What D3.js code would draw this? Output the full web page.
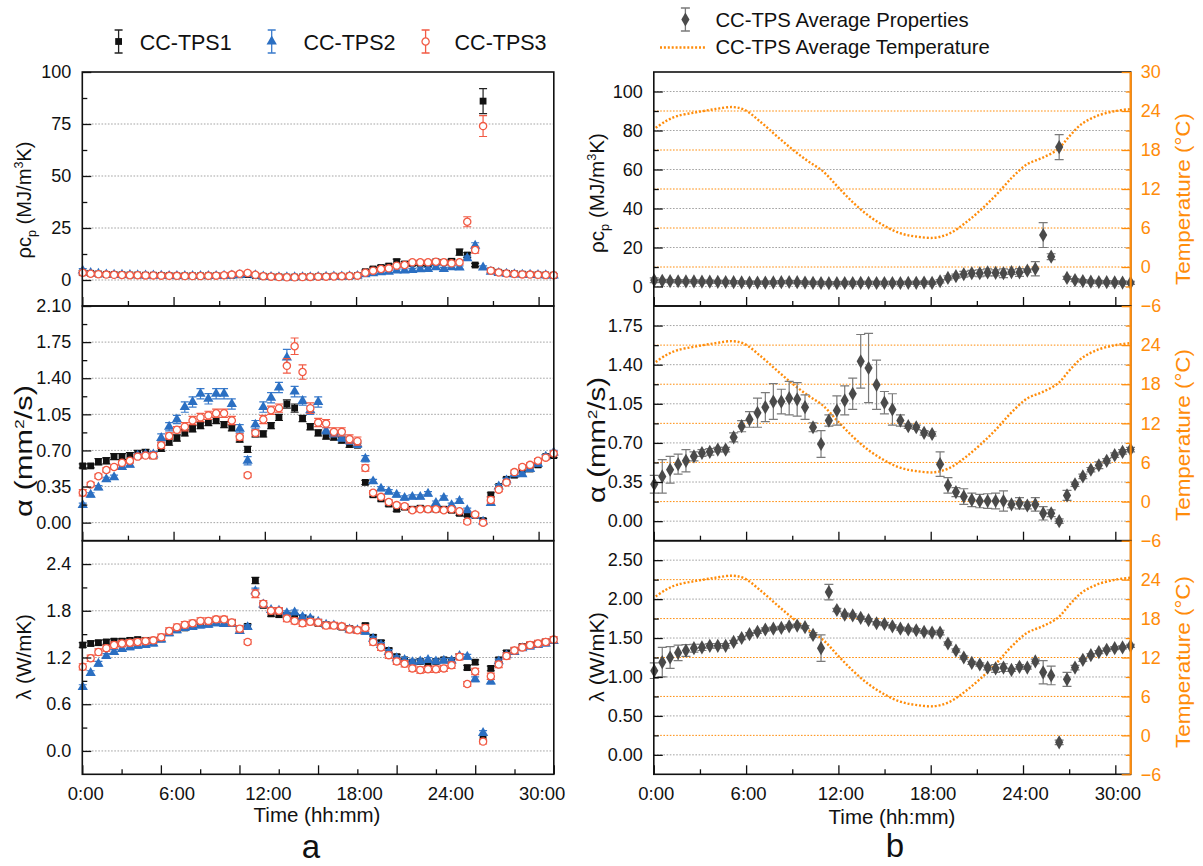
<!DOCTYPE html>
<html>
<head>
<meta charset="utf-8">
<script src="https://cdn.jsdelivr.net/npm/d3@7"></script>
<style>
  body { margin: 0; background: #fff; }
  text { font-family: "Liberation Sans", Arial, sans-serif; }
</style>
</head>
<body>
<svg id="chart" width="1203" height="866"></svg>
<script>
// sampling times (hours) shared by every series
const times = [0.03,0.55,1.06,1.58,2.09,2.61,3.13,3.64,4.16,4.67,
  5.19,5.71,6.22,6.74,7.25,7.77,8.29,8.80,9.32,9.83,
  10.35,10.87,11.38,11.90,12.41,12.93,13.45,13.96,14.48,14.99,
  15.51,16.03,16.54,17.06,17.57,18.09,18.61,19.12,19.64,20.15,
  20.67,21.19,21.70,22.22,22.73,23.25,23.77,24.28,24.80,25.31,
  25.83,26.35,26.86,27.38,27.89,28.41,28.93,29.44,29.96,30.47,
  30.99];

// ---- panel a : three sensors ----
const rhoTPS1 = [3.5,3.2,2.9,2.7,2.6,2.5,2.4,2.4,2.3,2.3,
  2.2,2.1,2.0,2.0,2.0,2.0,2.0,2.1,2.2,2.3,
  2.5,2.6,2.2,1.8,1.6,1.5,1.4,1.4,1.5,1.5,
  1.6,1.7,1.8,1.8,1.9,2.1,4.0,5.3,6.0,6.7,
  8.8,7.7,8.0,8.0,7.7,8.8,8.5,9.0,13.4,12.0,
  7.2,86.0,4.5,3.7,3.2,3.0,2.8,2.6,2.5,2.4,
  2.3];
const rhoTPS2 = [4.5,3.4,3.0,2.7,2.6,2.5,2.4,2.3,2.2,2.2,
  2.1,2.0,2.0,1.9,1.9,1.9,1.9,2.0,2.1,2.2,
  2.4,2.7,2.3,1.7,1.5,1.4,1.3,1.3,1.4,1.4,
  1.5,1.6,1.7,1.7,1.8,2.0,2.7,3.2,3.7,4.0,
  4.5,4.5,4.8,5.1,5.3,6.1,5.3,6.1,6.0,10.5,
  16.5,6.0,4.0,3.4,3.0,2.8,2.6,2.5,2.4,2.3,
  2.2];
const rhoTPS3 = [3.5,3.0,2.8,2.6,2.5,2.4,2.3,2.3,2.2,2.2,
  2.1,2.0,2.0,1.9,1.9,1.9,2.0,2.1,2.3,2.6,
  3.0,3.4,2.5,1.8,1.6,1.4,1.3,1.3,1.4,1.5,
  1.6,1.6,1.7,1.8,1.9,2.1,3.5,4.5,5.3,5.6,
  6.9,7.2,8.5,8.5,8.5,8.8,8.5,8.0,8.5,28.0,
  14.4,74.0,4.5,3.6,3.1,2.9,2.7,2.6,2.5,2.4,
  2.3];
const rhoErr1 = [1.0,0.8,0.7,0.7,0.7,0.7,0.7,0.7,0.7,0.7,
  0.7,0.7,0.7,0.7,0.7,0.7,0.7,0.7,0.7,0.7,
  0.8,0.8,0.7,0.7,0.7,0.7,0.7,0.7,0.7,0.7,
  0.7,0.7,0.7,0.7,0.7,0.7,0.8,0.9,1.0,1.0,
  1.2,1.0,1.0,1.0,1.0,1.0,1.0,1.0,1.5,1.2,
  0.8,6.0,0.8,0.7,0.7,0.7,0.7,0.7,0.7,0.7,
  0.7];
const rhoErr2 = [1.0,0.8,0.7,0.7,0.7,0.7,0.7,0.7,0.7,0.7,
  0.7,0.7,0.7,0.7,0.7,0.7,0.7,0.7,0.7,0.7,
  0.7,0.7,0.7,0.7,0.7,0.7,0.7,0.7,0.7,0.7,
  0.7,0.7,0.7,0.7,0.7,0.7,0.7,0.7,0.7,0.7,
  0.8,0.8,0.8,0.8,0.8,0.8,0.8,0.8,0.8,1.0,
  1.4,0.8,0.7,0.7,0.7,0.7,0.7,0.7,0.7,0.7,
  0.7];
const rhoErr3 = [1.0,0.8,0.7,0.7,0.7,0.7,0.7,0.7,0.7,0.7,
  0.7,0.7,0.7,0.7,0.7,0.7,0.7,0.7,0.7,0.7,
  0.8,0.8,0.7,0.7,0.7,0.7,0.7,0.7,0.7,0.7,
  0.7,0.7,0.7,0.7,0.7,0.7,0.8,0.8,0.9,0.9,
  0.9,0.9,0.9,0.9,0.9,0.9,0.9,0.9,0.9,2.4,
  1.5,5.0,0.8,0.7,0.7,0.7,0.7,0.7,0.7,0.7,
  0.7];

const alphaTPS1 = [0.55,0.55,0.59,0.60,0.64,0.64,0.65,0.67,0.68,0.65,
  0.72,0.78,0.82,0.87,0.91,0.94,0.97,0.99,0.95,0.92,
  0.81,0.71,0.86,0.86,0.94,1.02,1.15,1.11,1.01,0.93,
  0.87,0.84,0.83,0.80,0.76,0.75,0.39,0.27,0.23,0.18,
  0.13,0.15,0.13,0.14,0.13,0.13,0.13,0.12,0.09,0.08,
  0.07,0.02,0.27,0.35,0.42,0.46,0.51,0.52,0.56,0.64,
  0.65];
const alphaTPS2 = [0.17,0.27,0.34,0.42,0.44,0.54,0.56,0.65,0.66,0.66,
  0.82,0.93,1.00,1.12,1.17,1.25,1.20,1.25,1.25,1.15,
  0.91,0.60,0.95,1.12,1.21,1.31,1.60,1.27,1.18,1.09,
  1.17,0.89,0.86,0.82,0.79,0.76,0.62,0.40,0.33,0.30,
  0.27,0.24,0.25,0.25,0.28,0.19,0.24,0.17,0.21,0.12,
  0.07,0.01,0.19,0.35,0.41,0.47,0.47,0.52,0.57,0.64,
  0.68];
const alphaTPS3 = [0.29,0.37,0.45,0.51,0.54,0.58,0.60,0.64,0.65,0.65,
  0.75,0.84,0.90,0.93,0.99,1.02,1.04,1.06,1.06,0.99,
  0.83,0.46,0.87,1.00,1.09,1.11,1.52,1.71,1.46,1.11,
  0.97,0.96,0.88,0.88,0.81,0.79,0.53,0.29,0.25,0.20,
  0.17,0.16,0.12,0.13,0.13,0.13,0.12,0.13,0.11,0.01,
  0.08,0.00,0.22,0.32,0.39,0.49,0.54,0.56,0.60,0.63,
  0.67];
const alphaErr1 = [0.02,0.02,0.03,0.03,0.03,0.03,0.03,0.03,0.03,0.03,
  0.03,0.03,0.03,0.03,0.03,0.03,0.03,0.03,0.03,0.03,
  0.03,0.03,0.03,0.03,0.03,0.03,0.04,0.04,0.03,0.03,
  0.03,0.03,0.03,0.03,0.03,0.02,0.02,0.02,0.02,0.02,
  0.02,0.02,0.02,0.02,0.02,0.02,0.02,0.02,0.02,0.02,
  0.02,0.02,0.02,0.02,0.02,0.02,0.02,0.02,0.02,0.02,
  0.02];
const alphaErr2 = [0.02,0.02,0.02,0.02,0.02,0.02,0.02,0.02,0.02,0.03,
  0.04,0.04,0.04,0.05,0.05,0.05,0.05,0.05,0.05,0.05,
  0.04,0.04,0.04,0.05,0.05,0.05,0.08,0.05,0.04,0.04,
  0.05,0.03,0.03,0.03,0.03,0.03,0.03,0.02,0.02,0.02,
  0.02,0.02,0.02,0.02,0.02,0.02,0.02,0.02,0.02,0.02,
  0.02,0.02,0.02,0.02,0.02,0.02,0.02,0.02,0.02,0.02,
  0.02];
const alphaErr3 = [0.03,0.02,0.02,0.02,0.02,0.02,0.02,0.02,0.02,0.03,
  0.03,0.03,0.03,0.04,0.04,0.04,0.04,0.04,0.04,0.04,
  0.03,0.02,0.03,0.04,0.04,0.04,0.07,0.08,0.07,0.05,
  0.04,0.04,0.04,0.04,0.04,0.04,0.03,0.02,0.02,0.02,
  0.02,0.02,0.02,0.02,0.02,0.02,0.02,0.02,0.02,0.02,
  0.02,0.02,0.03,0.02,0.02,0.02,0.02,0.02,0.02,0.02,
  0.02];

const lambdaTPS1 = [1.36,1.38,1.39,1.40,1.41,1.41,1.42,1.43,1.42,1.42,
  1.44,1.52,1.56,1.58,1.60,1.63,1.64,1.65,1.64,1.65,
  1.56,1.60,2.19,1.87,1.76,1.75,1.74,1.73,1.71,1.69,
  1.64,1.62,1.61,1.59,1.57,1.55,1.61,1.46,1.39,1.29,
  1.21,1.17,1.14,1.15,1.12,1.15,1.17,1.16,1.21,1.07,
  1.14,0.17,1.06,1.17,1.26,1.29,1.34,1.36,1.38,1.40,
  1.42];
const lambdaTPS2 = [0.82,1.00,1.12,1.22,1.27,1.31,1.33,1.35,1.36,1.38,
  1.43,1.51,1.55,1.58,1.59,1.61,1.62,1.64,1.63,1.63,
  1.54,1.59,2.05,1.88,1.81,1.80,1.77,1.78,1.72,1.70,
  1.66,1.62,1.61,1.59,1.56,1.55,1.53,1.44,1.36,1.27,
  1.19,1.17,1.14,1.15,1.17,1.15,1.16,1.16,1.22,1.21,
  0.92,0.23,0.89,1.15,1.23,1.27,1.32,1.34,1.36,1.38,
  1.41];
const lambdaTPS3 = [1.08,1.19,1.27,1.32,1.36,1.38,1.39,1.40,1.41,1.42,
  1.46,1.54,1.59,1.62,1.64,1.67,1.67,1.69,1.69,1.65,
  1.57,1.40,2.02,1.89,1.80,1.80,1.70,1.67,1.64,1.66,
  1.65,1.61,1.61,1.60,1.56,1.55,1.58,1.40,1.33,1.23,
  1.15,1.12,1.06,1.04,1.05,1.05,1.06,1.10,1.21,0.86,
  1.02,0.12,0.96,1.11,1.22,1.29,1.33,1.36,1.38,1.40,
  1.43];
const lambdaErr1 = [0.03,0.03,0.03,0.03,0.03,0.03,0.03,0.03,0.03,0.03,
  0.03,0.03,0.03,0.03,0.03,0.03,0.03,0.03,0.03,0.03,
  0.03,0.03,0.04,0.03,0.03,0.03,0.03,0.03,0.03,0.03,
  0.03,0.03,0.03,0.03,0.03,0.03,0.03,0.03,0.03,0.03,
  0.03,0.03,0.03,0.03,0.03,0.03,0.03,0.03,0.03,0.03,
  0.03,0.03,0.03,0.03,0.03,0.03,0.03,0.03,0.03,0.03,
  0.03];
const lambdaErr2 = [0.03,0.03,0.03,0.03,0.03,0.03,0.03,0.03,0.03,0.03,
  0.03,0.03,0.03,0.03,0.03,0.03,0.03,0.03,0.03,0.03,
  0.03,0.03,0.04,0.03,0.03,0.03,0.03,0.03,0.03,0.03,
  0.03,0.03,0.03,0.03,0.03,0.03,0.03,0.03,0.03,0.03,
  0.03,0.03,0.03,0.03,0.03,0.03,0.03,0.03,0.03,0.03,
  0.03,0.03,0.03,0.03,0.03,0.03,0.03,0.03,0.03,0.03,
  0.03];
const lambdaErr3 = [0.04,0.04,0.04,0.04,0.04,0.04,0.04,0.04,0.04,0.04,
  0.04,0.04,0.04,0.04,0.04,0.04,0.04,0.04,0.04,0.04,
  0.04,0.03,0.05,0.04,0.04,0.04,0.04,0.04,0.04,0.04,
  0.04,0.04,0.04,0.04,0.04,0.04,0.04,0.04,0.04,0.04,
  0.04,0.04,0.04,0.04,0.04,0.04,0.04,0.04,0.04,0.03,
  0.04,0.03,0.04,0.04,0.04,0.04,0.04,0.04,0.04,0.04,
  0.04];

// ---- panel b : averages and temperature ----
const rhoAvg = [3.2,2.9,2.8,2.7,2.6,2.6,2.5,2.5,2.4,2.3,
  2.2,2.1,2.0,2.0,2.0,2.1,2.2,2.3,2.2,2.0,
  1.9,1.8,1.7,1.7,1.8,1.8,1.9,1.9,1.8,1.8,
  1.8,1.8,1.9,1.9,2.0,1.9,2.7,4.4,5.3,6.3,
  6.8,6.8,7.2,7.0,6.8,7.4,7.2,8.1,9.1,26.4,
  15.3,71.5,4.4,3.3,2.8,2.5,2.3,2.2,2.1,2.0,
  1.9];
const rhoAvgErr = [1.2,0.8,0.8,0.8,0.8,0.8,0.8,0.8,0.8,0.8,
  0.8,0.8,0.8,0.8,0.8,0.8,0.8,0.8,0.8,0.8,
  0.8,0.8,0.8,0.8,0.8,0.8,0.8,0.8,0.8,0.8,
  0.8,0.8,0.8,0.8,0.8,0.8,0.9,1.0,1.0,1.5,
  1.5,1.8,1.8,1.5,2.2,1.2,2.0,0.8,3.7,6.4,
  1.5,6.4,0.8,0.8,0.8,0.8,0.8,0.8,0.8,0.8,
  0.8];
const alphaAvg = [0.33,0.40,0.46,0.51,0.54,0.58,0.61,0.62,0.64,0.64,
  0.75,0.85,0.91,0.97,1.02,1.07,1.07,1.10,1.09,1.02,
  0.84,0.69,0.90,0.99,1.08,1.14,1.43,1.37,1.22,1.06,
  1.00,0.90,0.85,0.84,0.79,0.78,0.51,0.32,0.26,0.22,
  0.19,0.18,0.18,0.18,0.18,0.15,0.16,0.14,0.15,0.07,
  0.07,0.00,0.23,0.33,0.40,0.46,0.50,0.54,0.59,0.62,
  0.64];
const alphaAvgErr = [0.08,0.15,0.12,0.09,0.10,0.04,0.03,0.03,0.02,0.02,
  0.04,0.05,0.07,0.13,0.13,0.16,0.11,0.15,0.15,0.11,
  0.04,0.12,0.05,0.13,0.13,0.14,0.24,0.31,0.22,0.10,
  0.14,0.05,0.02,0.02,0.02,0.02,0.11,0.07,0.04,0.07,
  0.06,0.06,0.065,0.07,0.09,0.03,0.05,0.03,0.06,0.06,
  0.03,0.02,0.045,0.02,0.02,0.02,0.03,0.02,0.02,0.02,
  0.02];
const lambdaAvg = [1.08,1.19,1.25,1.31,1.34,1.37,1.38,1.40,1.40,1.40,
  1.45,1.50,1.55,1.58,1.61,1.62,1.63,1.65,1.66,1.64,
  1.54,1.37,2.09,1.86,1.80,1.79,1.76,1.73,1.69,1.68,
  1.65,1.62,1.61,1.60,1.58,1.57,1.57,1.43,1.34,1.25,
  1.18,1.16,1.12,1.11,1.12,1.09,1.13,1.12,1.20,1.06,
  1.02,0.16,0.97,1.12,1.22,1.28,1.32,1.35,1.37,1.38,
  1.40];
const lambdaAvgErr = [0.10,0.19,0.14,0.10,0.075,0.05,0.04,0.03,0.03,0.03,
  0.02,0.02,0.02,0.02,0.02,0.02,0.02,0.02,0.02,0.02,
  0.03,0.17,0.10,0.02,0.02,0.02,0.02,0.02,0.02,0.02,
  0.02,0.02,0.02,0.02,0.02,0.02,0.03,0.02,0.02,0.02,
  0.02,0.02,0.03,0.05,0.05,0.02,0.03,0.02,0.03,0.15,
  0.12,0.03,0.09,0.03,0.02,0.02,0.02,0.02,0.02,0.02,
  0.02];

const tempTimes = [0.13,0.75,1.50,2.75,4.00,5.13,5.88,7.00,8.01,9.01,
  10.01,11.01,12.01,13.01,14.01,15.01,16.01,17.01,18.26,19.26,
  20.26,21.26,22.26,23.26,24.26,25.26,26.26,27.01,27.76,28.76,
  30.01,31.00];
const tempValues = [21.4,22.4,23.2,23.8,24.3,24.6,24.2,22.2,20.1,18.1,
  16.3,14.7,12.2,9.8,7.8,6.3,5.2,4.7,4.5,5.2,
  6.8,8.8,11.1,13.7,15.8,16.8,18.1,20.1,21.9,23.2,
  24.0,24.3];

// tick values
const hourTicks = [0, 6, 12, 18, 24, 30];
const hourMinor = [3, 9, 15, 21, 27];
const hourLabels = ["0:00", "6:00", "12:00", "18:00", "24:00", "30:00"];
const aBottomTicks = [0, 5.1667, 10.3333, 15.5, 20.6667, 25.8333, 31];
const aBottomMinor = [2.5833, 7.75, 12.9167, 18.0833, 23.25, 28.4167];
const tempTicks = [-6, 0, 6, 12, 18, 24, 30];
const tempMinor = [-3, 3, 9, 15, 21, 27];

const ORANGE = "#ff8c0a";
const svg = d3.select("#chart");
svg.append("rect").attr("width", 1203).attr("height", 866).attr("fill", "#ffffff");

const rowY = [[72, 306], [306, 540.7], [540.7, 774.3]];
const xa = d3.scaleLinear().domain([0, 31]).range([82.3, 553.8]);
const xb = d3.scaleLinear().domain([0, 31]).range([653.8, 1130.7]);

function styleAxis(sel, size, color) {
  sel.select(".domain").remove();
  sel.attr("font-family", "Liberation Sans, Arial, sans-serif").attr("font-size", size);
  sel.selectAll("line").attr("stroke", color).attr("stroke-width", 1.3);
  sel.selectAll("text").attr("fill", color);
}

function drawPanel(x, r, p) {
  const y = d3.scaleLinear().domain(p.domain).range([rowY[r][1], rowY[r][0]]);
  const [x0, x1] = x.range();
  const g = svg.append("g");
  g.selectAll(null).data(p.grid).join("line")
    .attr("x1", x0).attr("x2", x1).attr("y1", d => y(d)).attr("y2", d => y(d))
    .attr("stroke", "#a3a3a3").attr("stroke-width", 1).attr("stroke-dasharray", "1.6,1.6");
  return { g, y, x, r, p };
}

function drawTicks(pan) {
  const { g, y, x, r, p } = pan;
  const [x0, x1] = x.range();
  const yb = rowY[r][1];
  g.append("g").attr("transform", `translate(${x0},0)`)
    .call(d3.axisLeft(y).tickValues(p.major).tickSize(-9).tickSizeOuter(0).tickPadding(11)
      .tickFormat(d => p.labels.includes(d) ? p.fmt(d) : ""))
    .call(s => styleAxis(s, 18, "#111"));
  g.append("g").attr("transform", `translate(${x0},0)`)
    .call(d3.axisLeft(y).tickValues(p.minor).tickSize(-5).tickSizeOuter(0).tickFormat(""))
    .call(s => styleAxis(s, 18, "#111"));
  g.append("g").attr("transform", `translate(0,${yb})`)
    .call(d3.axisBottom(x).tickValues(p.xMajor || hourTicks).tickSize(-9).tickSizeOuter(0).tickFormat(""))
    .call(s => styleAxis(s, 18, "#111"));
  g.append("g").attr("transform", `translate(0,${yb})`)
    .call(d3.axisBottom(x).tickValues(p.xMinor || hourMinor).tickSize(-5).tickSizeOuter(0).tickFormat(""))
    .call(s => styleAxis(s, 18, "#111"));
  g.append("rect").attr("x", x0).attr("y", rowY[r][0]).attr("width", x1 - x0)
    .attr("height", rowY[r][1] - rowY[r][0]).attr("fill", "none")
    .attr("stroke", "#111").attr("stroke-width", 1.6);
}

function drawTemp(pan) {
  const { g, x, r } = pan;
  const [x0, x1] = x.range();
  const yt = d3.scaleLinear().domain([-6, 30]).range([rowY[r][1], rowY[r][0]]);
  g.selectAll(null).data([0, 6, 12, 18, 24]).join("line")
    .attr("x1", x0).attr("x2", x1).attr("y1", d => yt(d)).attr("y2", d => yt(d))
    .attr("stroke", ORANGE).attr("stroke-width", 1).attr("stroke-dasharray", "1.6,1.6");
  const line = d3.line().x(d => x(d[0])).y(d => yt(d[1])).curve(d3.curveCatmullRom);
  g.append("path").datum(tempTimes.map((t, i) => [t, tempValues[i]]))
    .attr("d", line).attr("fill", "none").attr("stroke", ORANGE)
    .attr("stroke-width", 2.4).attr("stroke-dasharray", "2,1.9");
  pan.yt = yt;
}

function drawTempAxis(pan) {
  const { g, x, r, yt } = pan;
  const x1 = x.range()[1];
  g.append("g").attr("transform", `translate(${x1},0)`)
    .call(d3.axisRight(yt).tickValues(tempTicks).tickSize(-9).tickSizeOuter(0).tickPadding(10)
      .tickFormat(d => (r > 0 && d === 30) ? "" : d3.format("d")(d)))
    .call(s => styleAxis(s, 18, ORANGE));
  g.append("g").attr("transform", `translate(${x1},0)`)
    .call(d3.axisRight(yt).tickValues(tempMinor).tickSize(-5).tickSizeOuter(0).tickFormat(""))
    .call(s => styleAxis(s, 18, ORANGE));
  g.append("line").attr("x1", x1).attr("x2", x1).attr("y1", rowY[r][0]).attr("y2", rowY[r][1])
    .attr("stroke", ORANGE).attr("stroke-width", 2.2);
}

function marker(sel, shape, color) {
  if (shape === "square") {
    sel.append("rect").attr("x", -3.4).attr("y", -3.4).attr("width", 6.8).attr("height", 6.8).attr("fill", color);
  } else if (shape === "triangle") {
    sel.append("path").attr("d", d3.symbol(d3.symbolTriangle, 46)()).attr("fill", color);
  } else if (shape === "circle") {
    sel.append("circle").attr("r", 3.6).attr("fill", "#fff").attr("stroke", color).attr("stroke-width", 1.3);
  } else {
    sel.append("path").attr("d", d3.symbol(d3.symbolDiamond, 58)()).attr("fill", color);
  }
}

function drawSeries(pan, vals, errs, s) {
  const { g, x, y } = pan;
  const pts = times.map((t, i) => ({ t, v: vals[i], e: errs[i] })).filter(d => d.v != null);
  const c = s.cap;
  g.append("g").selectAll("path").data(pts).join("path")
    .attr("d", d => {
      const xx = x(d.t), ya = y(d.v - d.e), yb = y(d.v + d.e);
      return `M${xx - c},${ya}H${xx + c}M${xx},${ya}V${yb}M${xx - c},${yb}H${xx + c}`;
    })
    .attr("fill", "none").attr("stroke", s.bar).attr("stroke-width", 1.2);
  g.append("g").selectAll("g").data(pts).join("g")
    .attr("transform", d => `translate(${x(d.t)},${y(d.v)})`)
    .each(function () { marker(d3.select(this), s.shape, s.color); });
}

function yTitle(cx, cy, parts, len, color, size) {
  const t = svg.append("text")
    .attr("transform", `translate(${cx},${cy}) rotate(-90)`)
    .attr("text-anchor", "middle").attr("dy", "0.35em")
    .attr("font-size", size || 21).attr("fill", color || "#111");
  parts.forEach(pt => {
    const ts = t.append("tspan").text(pt.t);
    if (pt.sub) ts.attr("font-size", 13).attr("dy", 5);
    if (pt.sup) ts.attr("font-size", 13).attr("dy", -8);
    if (pt.back) ts.attr("dy", pt.back);
  });
  if (len) t.attr("textLength", len).attr("lengthAdjust", "spacingAndGlyphs");
}

const S1 = { shape: "square", color: "#111", bar: "#222", cap: 4 };
const S2 = { shape: "triangle", color: "#2b6fc2", bar: "#3a7bcc", cap: 4 };
const S3 = { shape: "circle", color: "#f25a44", bar: "#f25a44", cap: 4 };
const SB = { shape: "diamond", color: "#4a4a4a", bar: "#7a7a7a", cap: 4.5 };

const f0 = d3.format("d"), f1 = d3.format(".1f"), f2 = d3.format(".2f");

// ----- panel a -----
const a1 = drawPanel(xa, 0, { domain: [-12.5, 100], grid: [0, 25, 50, 75],
  major: [0, 25, 50, 75, 100], minor: [12.5, 37.5, 62.5, 87.5], labels: [0, 25, 50, 75, 100], fmt: f0 });
const a2 = drawPanel(xa, 1, { domain: [-0.175, 2.1], grid: [0, 0.35, 0.7, 1.05, 1.4, 1.75],
  major: [0, 0.35, 0.7, 1.05, 1.4, 1.75, 2.1], minor: [0.175, 0.525, 0.875, 1.225, 1.575, 1.925],
  labels: [0, 0.35, 0.7, 1.05, 1.4, 1.75, 2.1], fmt: f2 });
const a3 = drawPanel(xa, 2, { domain: [-0.3, 2.7], grid: [0, 0.6, 1.2, 1.8, 2.4],
  major: [0, 0.6, 1.2, 1.8, 2.4], minor: [0.3, 0.9, 1.5, 2.1], labels: [0, 0.6, 1.2, 1.8, 2.4], fmt: f1,
  xMajor: aBottomTicks, xMinor: aBottomMinor });

[[a1, rhoTPS1, rhoErr1, rhoTPS2, rhoErr2, rhoTPS3, rhoErr3],
 [a2, alphaTPS1, alphaErr1, alphaTPS2, alphaErr2, alphaTPS3, alphaErr3],
 [a3, lambdaTPS1, lambdaErr1, lambdaTPS2, lambdaErr2, lambdaTPS3, lambdaErr3]].forEach(([pan, v1, e1, v2, e2, v3, e3]) => {
  drawSeries(pan, v1, e1, S1);
  drawSeries(pan, v2, e2, S2);
  drawSeries(pan, v3, e3, S3);
  drawTicks(pan);
});

// ----- panel b -----
const b1 = drawPanel(xb, 0, { domain: [-10, 110], grid: [0, 20, 40, 60, 80, 100],
  major: [0, 20, 40, 60, 80, 100], minor: [10, 30, 50, 70, 90], labels: [0, 20, 40, 60, 80, 100], fmt: f0 });
const b2 = drawPanel(xb, 1, { domain: [-0.175, 1.925], grid: [0, 0.35, 0.7, 1.05, 1.4, 1.75],
  major: [0, 0.35, 0.7, 1.05, 1.4, 1.75], minor: [0.175, 0.525, 0.875, 1.225, 1.575],
  labels: [0, 0.35, 0.7, 1.05, 1.4, 1.75], fmt: f2 });
const b3 = drawPanel(xb, 2, { domain: [-0.25, 2.75], grid: [0, 0.5, 1, 1.5, 2, 2.5],
  major: [0, 0.5, 1, 1.5, 2, 2.5], minor: [0.25, 0.75, 1.25, 1.75, 2.25], labels: [0, 0.5, 1, 1.5, 2, 2.5], fmt: f2 });

[[b1, rhoAvg, rhoAvgErr], [b2, alphaAvg, alphaAvgErr], [b3, lambdaAvg, lambdaAvgErr]].forEach(([pan, v, e]) => {
  drawTemp(pan);
  drawSeries(pan, v, e, SB);
  drawTicks(pan);
  drawTempAxis(pan);
});

// x tick labels and titles
[xa, xb].forEach((x, k) => {
  svg.append("g").attr("transform", `translate(${k ? 2 : 3},774.3)`)
    .call(d3.axisBottom(x).tickValues(hourTicks).tickSize(0).tickPadding(13)
      .tickFormat((d, i) => hourLabels[i]))
    .call(s => styleAxis(s, 18.5, "#111"));
});
svg.append("text").attr("x", 317).attr("y", 822).attr("text-anchor", "middle")
  .attr("font-size", 20.5).attr("fill", "#111").text("Time (hh:mm)");
svg.append("text").attr("x", 892).attr("y", 824).attr("text-anchor", "middle")
  .attr("font-size", 20.5).attr("fill", "#111").text("Time (hh:mm)");
svg.append("text").attr("x", 311).attr("y", 858).attr("text-anchor", "middle")
  .attr("font-size", 33).attr("fill", "#111").text("a");
svg.append("text").attr("x", 895).attr("y", 857).attr("text-anchor", "middle")
  .attr("font-size", 33).attr("fill", "#111").text("b");

// y axis titles
const rhoParts = [{ t: "ρc" }, { t: "p", sub: true }, { t: " (MJ/m", back: -5 }, { t: "3", sup: true }, { t: "K)", back: 8 }];
const alphaParts = [{ t: "α (mm" }, { t: "2", sup: true }, { t: "/s)", back: 8 }];
const lambdaParts = [{ t: "λ (W/mK)" }];
yTitle(24, 200, rhoParts, 117);
yTitle(24, 451, alphaParts, 132, null, 23);
yTitle(24, 657, lambdaParts, 86);
yTitle(597, 193, rhoParts, 120);
yTitle(597, 440, alphaParts, 126, null, 23);
yTitle(597, 657, lambdaParts, 90);
const tempParts = [{ t: "Temperature (°C)" }];
[199, 435, 662].forEach(cy => yTitle(1183, cy, tempParts, 172, ORANGE));

// legends
const legA = [
  { name: "CC-TPS1", s: S1, ix: 118.6, tx: 139.7 },
  { name: "CC-TPS2", s: S2, ix: 271.7, tx: 303.5 },
  { name: "CC-TPS3", s: S3, ix: 425.6, tx: 454.6 }
];
legA.forEach(d => {
  const g = svg.append("g").attr("transform", `translate(${d.ix},41.5)`);
  g.append("path").attr("d", "M-4,-11.5H4M0,-11.5V11.5M-4,11.5H4")
    .attr("stroke", d.s.bar).attr("stroke-width", 1.3).attr("fill", "none");
  marker(g, d.s.shape, d.s.color);
  svg.append("text").attr("x", d.tx).attr("y", 49.5).attr("font-size", 21.5).attr("fill", "#111").text(d.name);
});
const gl = svg.append("g").attr("transform", "translate(685.4,19.5)");
gl.append("path").attr("d", "M-4.5,-11.5H4.5M0,-11.5V11.5M-4.5,11.5H4.5")
  .attr("stroke", SB.bar).attr("stroke-width", 1.3).attr("fill", "none");
marker(gl, SB.shape, SB.color);
svg.append("text").attr("x", 715.4).attr("y", 26.5).attr("font-size", 20.3).attr("fill", "#111")
  .text("CC-TPS Average Properties");
svg.append("line").attr("x1", 660).attr("x2", 706).attr("y1", 47.5).attr("y2", 47.5)
  .attr("stroke", ORANGE).attr("stroke-width", 2.4).attr("stroke-dasharray", "2,1.9");
svg.append("text").attr("x", 715.4).attr("y", 53.5).attr("font-size", 20.3).attr("fill", "#111")
  .text("CC-TPS Average Temperature");
</script>
</body>
</html>
